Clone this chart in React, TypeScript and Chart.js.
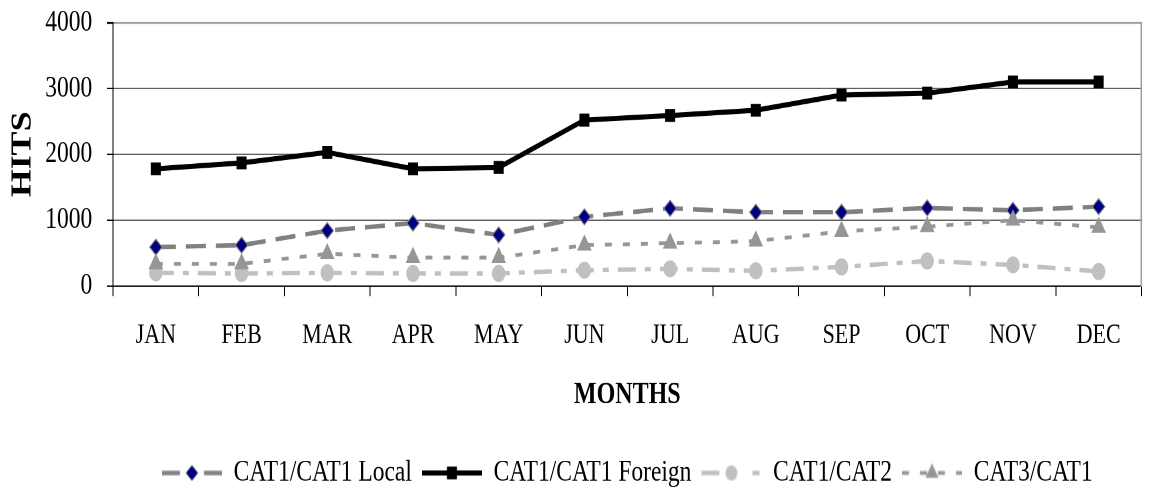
import React, { useEffect, useRef } from 'react';
import { Chart, registerables } from 'chart.js';

Chart.register(...registerables);

// ---- data ----
const months = ['JAN', 'FEB', 'MAR', 'APR', 'MAY', 'JUN', 'JUL', 'AUG', 'SEP', 'OCT', 'NOV', 'DEC'];
const localHits = [590, 620, 840, 955, 775, 1050, 1180, 1120, 1120, 1185, 1150, 1205];
const foreignHits = [1780, 1870, 2030, 1780, 1800, 2520, 2590, 2670, 2900, 2930, 3100, 3100];
const cat2Hits = [200, 190, 200, 190, 190, 240, 260, 230, 290, 380, 320, 220];
const cat3Hits = [335, 335, 490, 430, 430, 620, 650, 680, 830, 900, 1000, 890];
const seriesNames = ['CAT1/CAT1 Local', 'CAT1/CAT1 Foreign', 'CAT1/CAT2', 'CAT3/CAT1'];
const yTitle = 'HITS';
const xTitle = 'MONTHS';
const yMin = 0;
const yMax = 4000;
const yStep = 1000;

const W = 1150;
const H = 400;
const SY = 1.28;
const FONT = "'Liberation Serif', 'Times New Roman', Times, serif";

function makeSample(kind: number): HTMLCanvasElement {
  const c = document.createElement('canvas');
  c.width = 60;
  c.height = 24;
  const g = c.getContext('2d') as CanvasRenderingContext2D;
  const cx = 30;
  const cy = 12;
  g.lineCap = 'butt';
  if (kind === 0) {
    g.strokeStyle = '#808080';
    g.lineWidth = 3.5;
    g.beginPath();
    g.moveTo(0, cy); g.lineTo(18, cy);
    g.moveTo(42, cy); g.lineTo(60, cy);
    g.stroke();
    g.beginPath();
    g.moveTo(cx - 6, cy); g.lineTo(cx, cy - 6); g.lineTo(cx + 6, cy); g.lineTo(cx, cy + 6); g.closePath();
    g.fillStyle = '#000080';
    g.fill();
    g.lineWidth = 1;
    g.strokeStyle = '#808080';
    g.stroke();
  } else if (kind === 1) {
    g.strokeStyle = '#000';
    g.lineWidth = 4;
    g.beginPath();
    g.moveTo(0, cy); g.lineTo(60, cy);
    g.stroke();
    g.fillStyle = '#000';
    g.fillRect(cx - 5, cy - 5, 10, 10);
  } else if (kind === 2) {
    g.strokeStyle = '#C0C0C0';
    g.lineWidth = 3.5;
    g.beginPath();
    g.moveTo(0, cy); g.lineTo(18, cy);
    g.moveTo(51, cy); g.lineTo(58, cy);
    g.stroke();
    g.beginPath();
    g.arc(cx, cy, 6, 0, Math.PI * 2);
    g.fillStyle = '#C0C0C0';
    g.fill();
  } else {
    g.strokeStyle = '#969696';
    g.lineWidth = 3;
    g.setLineDash([7, 11]);
    g.beginPath();
    g.moveTo(0, cy); g.lineTo(60, cy);
    g.stroke();
    g.setLineDash([]);
    g.beginPath();
    g.moveTo(cx, cy - 7.5); g.lineTo(cx + 6.5, cy + 3.75); g.lineTo(cx - 6.5, cy + 3.75); g.closePath();
    g.fillStyle = '#969696';
    g.fill();
  }
  return c;
}

export default function App() {
  const ref = useRef<HTMLCanvasElement | null>(null);

  useEffect(() => {
    if (!ref.current) return;
    const samples = [0, 1, 2, 3].map((k) => makeSample(k));
    const chart = new Chart(ref.current, {
      type: 'line',
      data: {
        labels: months,
        datasets: [
          {
            label: seriesNames[0],
            data: localHits,
            borderColor: '#808080',
            backgroundColor: '#000080',
            borderWidth: 3.5,
            borderDash: [20, 10],
            pointStyle: 'rectRot',
            pointRadius: 6.2,
            pointBackgroundColor: '#000080',
            pointBorderColor: '#808080',
            pointBorderWidth: 1,
            tension: 0,
            fill: false,
            order: 3,
          },
          {
            label: seriesNames[1],
            data: foreignHits,
            borderColor: '#000000',
            backgroundColor: '#000000',
            borderWidth: 4,
            pointStyle: 'rect',
            pointRadius: 6.4,
            pointBackgroundColor: '#000000',
            pointBorderColor: '#000000',
            pointBorderWidth: 1,
            tension: 0,
            fill: false,
            order: 2,
          },
          {
            label: seriesNames[2],
            data: cat2Hits,
            borderColor: '#C0C0C0',
            backgroundColor: '#C0C0C0',
            borderWidth: 3.5,
            borderDash: [18, 9, 6, 9],
            pointStyle: 'circle',
            pointRadius: 6.2,
            pointBackgroundColor: '#C0C0C0',
            pointBorderColor: '#C0C0C0',
            pointBorderWidth: 1,
            tension: 0,
            fill: false,
            order: 1,
          },
          {
            label: seriesNames[3],
            data: cat3Hits,
            borderColor: '#969696',
            backgroundColor: '#969696',
            borderWidth: 3,
            borderDash: [7, 11],
            pointStyle: 'triangle',
            pointRadius: 7.5,
            pointBackgroundColor: '#969696',
            pointBorderColor: '#969696',
            pointBorderWidth: 1,
            tension: 0,
            fill: false,
            order: 0,
          },
        ],
      },
      options: {
        responsive: false,
        animation: false,
        devicePixelRatio: 2,
        layout: { padding: { left: 0, right: 5, top: 17.7, bottom: 8.75 } },
        plugins: {
          tooltip: { enabled: false },
          legend: {
            position: 'bottom',
            fullSize: false,
            labels: {
              usePointStyle: true,
              pointStyleWidth: 60,
              padding: 10,
              color: '#000',
              font: { size: 23.5, family: FONT },
              sort: (a: any, b: any) => a.datasetIndex - b.datasetIndex,
              generateLabels: (c: any) => {
                const items = (Chart.defaults as any).plugins.legend.labels.generateLabels(c);
                return items.map((it: any) => ({ ...it, pointStyle: samples[it.datasetIndex], rotation: 0 }));
              },
            },
          },
        },
        scales: {
          x: {
            type: 'category',
            offset: true,
            grid: {
              display: true,
              drawOnChartArea: false,
              drawTicks: true,
              tickLength: 8,
              color: '#000',
              lineWidth: 1,
              offset: true,
            },
            border: { display: true, color: '#000', width: 1 },
            ticks: {
              color: '#000',
              font: { size: 22, family: FONT },
              padding: 17.5,
              autoSkip: false,
              maxRotation: 0,
            },
            title: {
              display: true,
              text: xTitle,
              color: '#000',
              font: { size: 24, weight: 'bold', family: FONT },
              padding: { top: 0, bottom: 24.35 },
            },
            afterFit: (s: any) => {
              s.height = 124.35;
            },
          },
          y: {
            min: yMin,
            max: yMax,
            ticks: {
              stepSize: yStep,
              color: '#000',
              font: { size: 23.5, family: FONT },
              padding: 14.7,
              callback: (v: any) => String(v),
            },
            grid: {
              color: (ctx: any) => (ctx.tick && ctx.tick.value === yMax ? '#A0A0A0' : '#606060'),
              lineWidth: (ctx: any) => (ctx.tick && ctx.tick.value === yMax ? 1.6 : 1),
              tickColor: '#000',
              tickLength: 6,
              drawTicks: true,
            },
            border: { display: true, color: '#000', width: 1 },
            title: {
              display: true,
              text: yTitle,
              color: '#000',
              font: { size: 28, weight: 'bold', family: FONT },
              padding: { top: 6.5, bottom: 0 },
            },
            afterFit: (s: any) => {
              s.width = 113;
              s.paddingTop = 0;
              s.paddingBottom = 0;
            },
          },
          y2: {
            position: 'right',
            display: true,
            min: yMin,
            max: yMax,
            grid: { display: false, drawTicks: false, drawOnChartArea: false },
            ticks: { display: false },
            border: { display: true, color: '#A0A0A0', width: 1.6 },
          },
        },
      } as any,
    });
    return () => {
      chart.destroy();
    };
  }, []);

  return (
    <div
      style={{
        position: 'absolute',
        left: 0,
        top: 0,
        width: 1150,
        height: 493,
        overflow: 'hidden',
        background: '#fff',
      }}
    >
      <div style={{ width: W, height: H, transform: `scaleY(${SY})`, transformOrigin: '0 0' }}>
        <canvas ref={ref} width={W} height={H} />
      </div>
    </div>
  );
}
